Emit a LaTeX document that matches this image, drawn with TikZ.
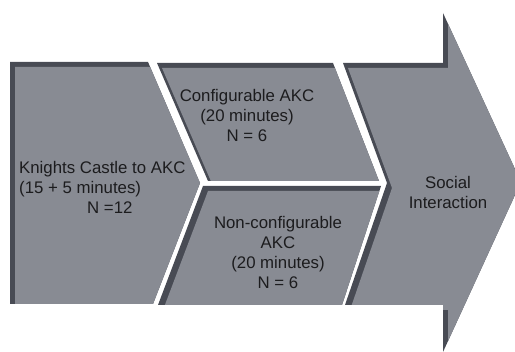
\documentclass[tikz,border=0pt]{standalone}
\usepackage{fontspec}
\setmainfont{Liberation Sans}
\definecolor{face}{RGB}{136,139,147}
\definecolor{edgedark}{RGB}{72,75,84}
\definecolor{txt}{RGB}{28,28,30}
\newcommand{\bevelshape}[1]{%
  \fill[edgedark] #1 -- cycle;
  \begin{scope}
    \clip #1 -- cycle;
    \fill[face, shift={(5,5)}] #1 -- cycle;
  \end{scope}}
\tikzset{
  lbl/.style={text=txt, font=\fontsize{16.8}{20}\selectfont, inner sep=0pt, align=center},
}
\begin{document}
\begin{tikzpicture}[x=1pt,y=-1pt]
\useasboundingbox (0,0) rectangle (515,352);
\begin{scope}
\clip (0,0) rectangle (515,352);
% left block
\bevelshape{(10,62) -- (148,62) -- (200,183) -- (153,304) -- (10,304)}
% top middle block
\bevelshape{(157,63) -- (333,63) -- (379,181) -- (208,181)}
% bottom middle block
\bevelshape{(203,186) -- (381,186) -- (342,305) -- (158,305)}
% arrow
\bevelshape{(343,63) -- (443,63) -- (443,13) -- (521,182) -- (443,352) -- (443,305) -- (345,305) -- (387,183)}
\end{scope}
\node[lbl, align=left, anchor=west] (knights) at (19,187)
  {Knights Castle to AKC\\(15 + 5 minutes)\\\hspace{68pt}N =12};
\node[lbl] (config) at (247,115) {Configurable AKC\\(20 minutes)\\N = 6};
\node[lbl] (nonconfig) at (278,252) {Non-configurable\\AKC\\(20 minutes)\\N = 6};
\node[lbl] (social) at (448,192) {Social\\Interaction};
\end{tikzpicture}
\end{document}
